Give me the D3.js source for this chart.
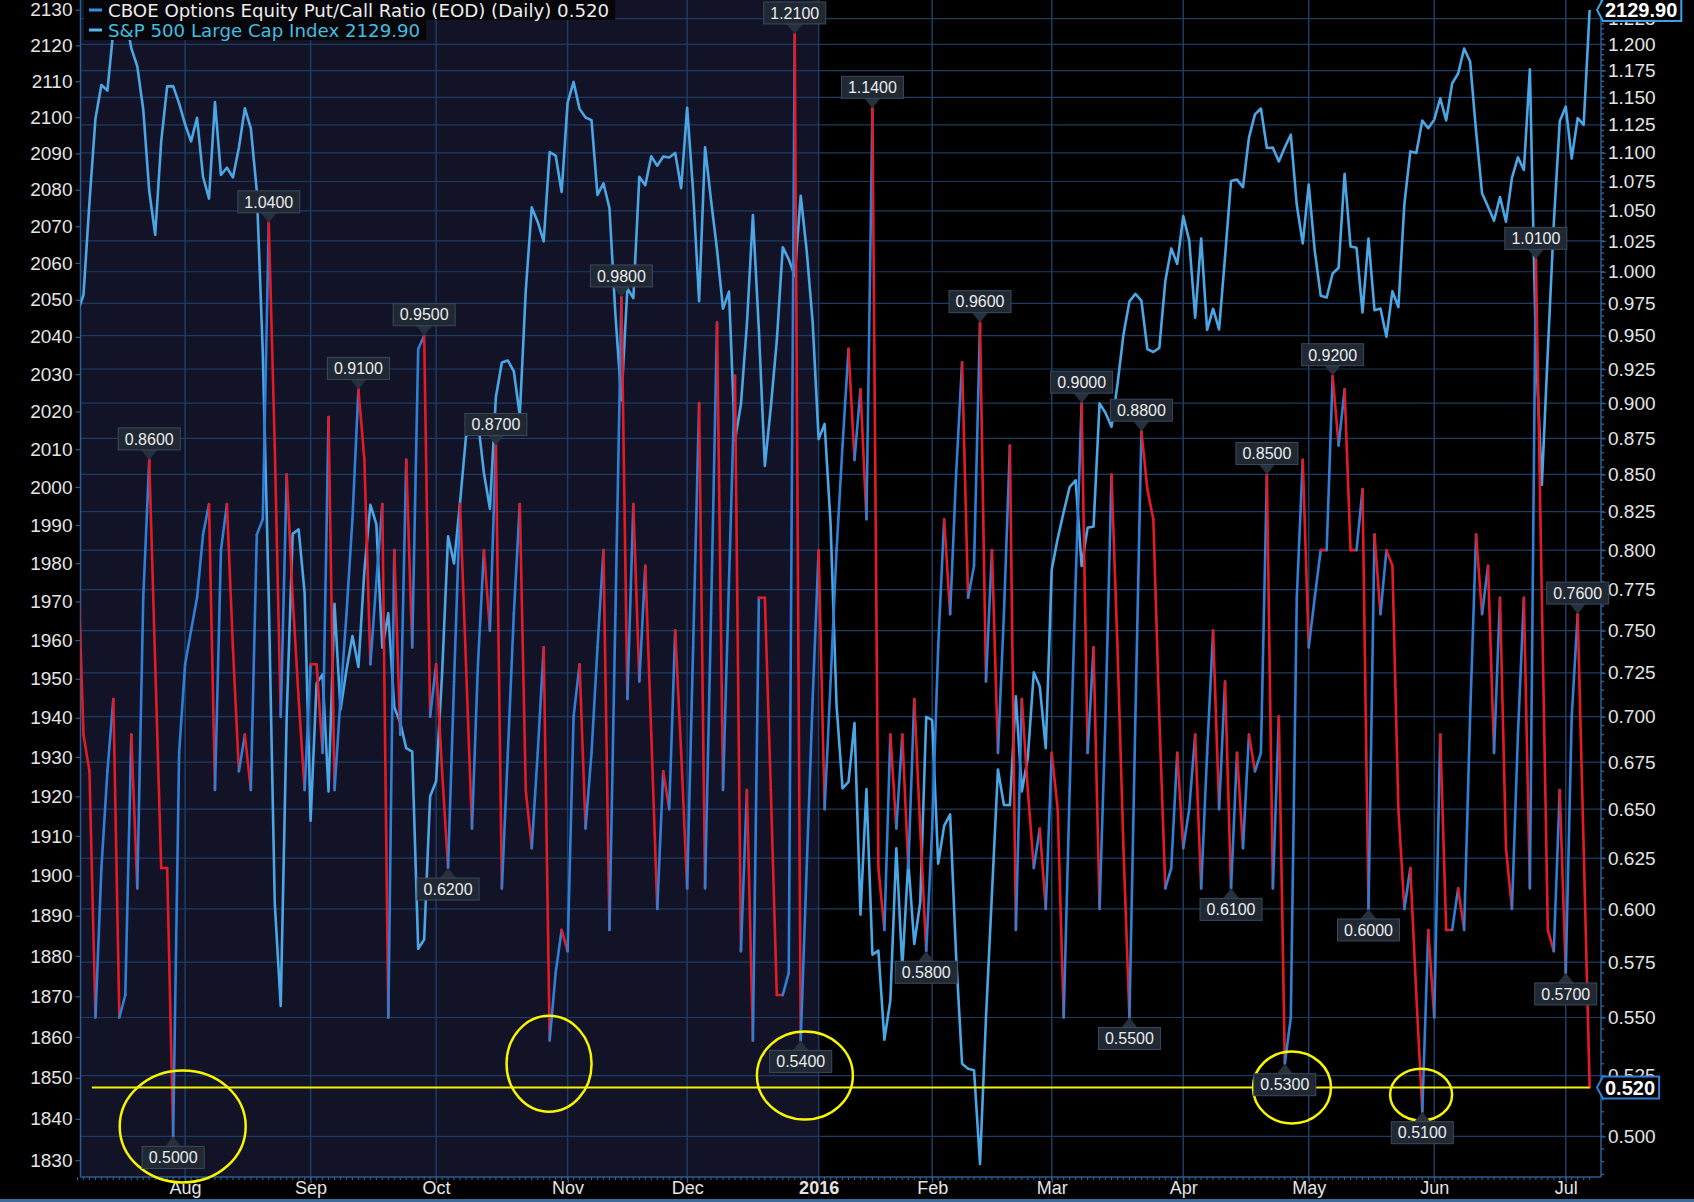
<!DOCTYPE html>
<html><head><meta charset="utf-8">
<script src="https://cdn.jsdelivr.net/npm/d3@7"></script>
<style>html,body{margin:0;padding:0;background:#000;}svg{display:block;}</style>
</head><body><svg id="chart" width="1694" height="1202"></svg>
<script>
// ---------- DATA ----------
const startDate = "2015-07-08", endDate = "2016-07-08";
const holidays = ["2015-09-07","2015-11-26","2015-12-25","2016-01-01","2016-01-18","2016-02-15","2016-03-25","2016-05-30","2016-07-04"];
const monthLabels = ["Aug","Sep","Oct","Nov","Dec","2016","Feb","Mar","Apr","May","Jun","Jul"];
const seriesNames = ["CBOE Options Equity Put/Call Ratio (EOD) (Daily) 0.520","S&P 500 Large Cap Index 2129.90"];
// S&P 500 daily close (one value per trading day)
const spx = [
2046.68,2051.31,2076.62,2099.60,2108.95,2107.40,2124.29,2126.64,2128.28,2119.21,2114.15,2102.15,2079.65,2067.64,2093.25,2108.57,2108.63,2103.84,
2098.04,2093.32,2099.84,2083.56,2077.57,2104.18,2084.07,2086.05,2083.39,2091.54,2102.44,2096.92,2079.61,2035.73,1970.89,1893.21,1867.61,1940.51,1987.66,1988.87,1972.18,
1913.85,1948.86,1951.13,1921.22,1969.41,1942.04,1952.29,1961.05,1953.03,1978.09,1995.31,1990.20,1958.03,1966.97,1942.74,1938.76,1932.24,1931.34,1881.77,1884.09,1920.03,
1923.82,1951.36,1987.05,1979.92,1995.83,2013.43,2014.89,2017.46,2003.69,1994.24,2023.86,2033.11,2033.66,2030.77,2018.94,2052.51,2075.15,2071.18,2065.89,2090.35,2089.41,2079.36,
2104.05,2109.79,2102.31,2099.93,2099.20,2078.58,2081.72,2075.00,2045.97,2023.04,2053.19,2050.44,2083.58,2081.24,2089.17,2086.59,2089.14,2088.87,2090.11,2080.41,
2102.63,2079.51,2049.62,2091.69,2077.07,2063.59,2047.62,2052.23,2012.37,2021.94,2043.41,2073.07,2041.89,2005.55,2021.15,2038.97,2064.29,2060.99,2056.50,2078.36,2063.36,2043.94,
2012.66,2016.71,1990.26,1943.09,1922.03,1923.67,1938.68,1890.28,1921.84,1880.33,1881.33,1859.33,1868.99,1906.90,1877.08,1903.63,1882.95,1893.36,1940.24,
1939.38,1903.03,1912.53,1915.45,1880.05,1853.44,1852.21,1851.86,1829.08,1864.78,1895.58,1926.82,1917.83,1917.78,1945.50,1921.27,1929.80,1951.70,1948.05,1932.23,
1978.35,1986.45,1993.40,1999.99,2001.76,1979.26,1989.26,1989.57,2022.19,2019.64,2015.93,2027.22,2040.59,2049.58,2051.60,2049.80,2036.71,2035.94,2037.05,2055.01,2063.95,2059.74,
2072.78,2066.13,2045.17,2066.66,2041.91,2047.60,2041.99,2061.72,2082.42,2082.78,2080.73,2094.34,2100.80,2102.40,2091.48,2091.58,2087.79,2091.70,2095.15,2075.81,2065.30,
2081.43,2063.37,2051.12,2050.63,2057.14,2058.69,2084.39,2064.46,2064.11,2046.61,2066.66,2047.21,2047.63,2040.04,2052.32,2048.04,2076.06,2090.54,2090.10,2099.06,2096.95,
2099.33,2105.26,2099.13,2109.41,2112.13,2119.12,2115.48,2096.07,2079.06,2075.32,2071.50,2077.99,2071.22,2083.25,2088.90,2085.45,2113.32,2037.41,2000.54,2036.09,2070.77,2098.86,
2102.95,2088.55,2099.73,2097.90,2129.90];
// CBOE equity put/call ratio (one value per trading day)
const pcr = [
0.80,
0.69,0.67,0.55,0.62,0.67,0.71,0.55,0.56,0.69,0.61,
0.77,0.86,0.73,0.62,0.62,0.50,0.68,0.73,0.75,0.77,
0.81,0.83,0.66,0.80,0.83,0.74,0.67,0.69,0.66,0.81,
0.82,1.04,0.87,0.70,0.85,0.77,0.71,0.66,0.73,0.73,
0.68,0.89,0.66,0.71,0.76,0.82,0.91,0.86,0.73,0.78,
0.83,0.55,0.80,0.69,0.86,0.74,0.94,0.95,0.70,0.73,
0.67,0.62,0.72,0.83,0.73,0.64,0.73,0.80,0.75,0.87,
0.61,0.68,0.76,0.83,0.66,0.63,0.68,0.74,0.54,0.57,
0.59,0.58,0.70,0.73,0.64,0.68,0.74,0.80,0.59,0.76,
0.98,0.71,0.83,0.72,0.79,0.69,0.60,0.67,0.65,0.75,
0.68,0.61,0.74,0.90,0.61,0.76,0.96,0.66,0.78,0.92,
0.58,0.66,0.54,0.77,0.77,0.66,0.56,0.56,0.57,1.21,
0.54,0.62,0.71,0.80,0.65,0.72,0.80,0.87,0.94,0.86,
0.91,0.82,1.14,0.62,0.59,0.69,0.64,0.69,0.62,0.71,
0.64,0.58,0.64,0.74,0.82,0.76,0.85,0.93,0.77,0.79,
0.96,0.72,0.80,0.68,0.76,0.87,0.59,0.71,0.66,0.62,
0.64,0.60,0.68,0.65,0.55,0.66,0.78,0.90,0.68,0.74,
0.60,0.70,0.85,0.74,0.63,0.55,0.70,0.88,0.84,0.82,
0.70,0.61,0.62,0.68,0.63,0.65,0.69,0.61,0.68,0.75,
0.65,0.72,0.61,0.68,0.63,0.69,0.67,0.68,0.85,0.61,
0.70,0.53,0.55,0.77,0.86,0.74,0.77,0.80,0.80,0.92,
0.87,0.91,0.80,0.80,0.84,0.60,0.81,0.76,0.80,0.79,
0.65,0.60,0.62,0.56,0.51,0.59,0.55,0.69,0.59,0.59,
0.61,0.59,0.70,0.81,0.76,0.79,0.68,0.77,0.63,0.60,
0.69,0.77,0.61,1.01,0.77,0.59,0.58,0.66,0.57,0.70,
0.76,0.63,0.52];
const leftTicks = d3.range(1830, 2131, 10);
const rightTicks = d3.range(20, 50).map(k => +(k * 0.025).toFixed(3));
// highlighted extremes: [trading-day index, side]
const callouts = [[16,"b"],[12,"a"],[32,"a"],[47,"a"],[58,"a"],[62,"b"],[70,"a"],[91,"a"],[120,"a"],[121,"b"],[133,"a"],[142,"b"],[151,"a"],[168,"a"],[176,"b"],[178,"a"],[193,"b"],[199,"a"],[202,"b"],[210,"a"],[216,"b"],[225,"b"],[244,"a"],[251,"a"],[249,"b"]];
const refLevel = 0.52;
// yellow rings: [trading-day index, ratio level]
const rings = [[17.6,0.504],[78.9,0.530],[121.7,0.525],[203.2,0.520],[224.8,0.517]];

// ---------- LAYOUT ----------
const W = 1694, H = 1202;
const P = {left: 80.5, right: 1601, top: 0, bottom: 1177};
const svg = d3.select("#chart");
const FONT = "'Liberation Sans', Arial, sans-serif";
const GRID = "#1d3c62", AXIS = "#2a5d92";

const fmt = d3.utcFormat("%Y-%m-%d");
const hol = new Set(holidays);
const dates = d3.utcDays(d3.utcParse("%Y-%m-%d")(startDate), d3.utcDay.offset(d3.utcParse("%Y-%m-%d")(endDate), 1))
  .filter(d => d.getUTCDay() !== 0 && d.getUTCDay() !== 6 && !hol.has(fmt(d)));
const monthIdx = [];
dates.forEach((d, k) => { if (k > 0 && d.getUTCMonth() !== dates[k-1].getUTCMonth()) monthIdx.push(k); });
const yearIdx = monthIdx[monthLabels.indexOf("2016")];

const x = d3.scaleLinear().domain([0.5, 254.9]).range([P.left, P.right]);
const y1 = d3.scaleLog().domain([1830, 2130]).range([1160.2, 9.7]);
const y2 = d3.scaleLog().domain([0.5, 1.2]).range([1136.4, 44.3]);

svg.append("rect").attr("width", W).attr("height", H).attr("fill", "#000");
svg.append("rect").attr("x", P.left).attr("y", P.top).attr("width", x(yearIdx) - P.left)
  .attr("height", P.bottom - P.top).attr("fill", "#131327");
svg.append("rect").attr("x", 0).attr("y", 1199).attr("width", W).attr("height", 3).attr("fill", "#3c6c9c");

// grid
const grid = svg.append("g");
grid.selectAll(".h").data(rightTicks).join("line")
  .attr("x1", P.left).attr("x2", P.right).attr("y1", d => y2(d)).attr("y2", d => y2(d))
  .attr("stroke", GRID).attr("stroke-width", 1.2);
grid.selectAll(".v").data(monthIdx).join("line")
  .attr("x1", d => x(d)).attr("x2", d => x(d)).attr("y1", P.top).attr("y2", P.bottom)
  .attr("stroke", GRID).attr("stroke-width", 1.5);

// axes
const axisStyle = g => {
  g.select(".domain").attr("stroke", AXIS).attr("stroke-width", 1.5);
  g.selectAll(".tick line").attr("stroke", AXIS).attr("stroke-width", 1.2);
  g.selectAll("text").attr("fill", "#e4e4e4").attr("font-family", FONT).attr("font-size", 19);
};
svg.append("g").attr("transform", `translate(${P.left},0)`)
  .call(d3.axisLeft(y1).tickValues(leftTicks).tickFormat(d3.format("d")).tickSize(5).tickSizeOuter(0).tickPadding(3))
  .call(axisStyle).call(g => g.select(".domain").attr("d", `M0,${P.top}V${P.bottom}`));
// right axis minor ticks
const minor = d3.range(97, 249).map(k => k * 0.005);
svg.append("g").selectAll("line").data(minor).join("line")
  .attr("x1", P.right).attr("x2", P.right + 3).attr("y1", d => y2(d)).attr("y2", d => y2(d))
  .attr("stroke", AXIS).attr("stroke-width", 1.5);
svg.append("g").attr("transform", `translate(${P.right},0)`)
  .call(d3.axisRight(y2).tickValues(rightTicks).tickFormat(d3.format(".3f")).tickSize(5).tickSizeOuter(0).tickPadding(2))
  .call(axisStyle).call(g => g.select(".domain").attr("d", `M0,${P.top}V${P.bottom}`));
// bottom axis: daily minor ticks + month ticks
svg.append("g").selectAll("line").data(d3.range(0, dates.length)).join("line")
  .attr("x1", d => x(d)).attr("x2", d => x(d)).attr("y1", P.bottom).attr("y2", P.bottom + 3)
  .attr("stroke", AXIS).attr("stroke-width", 1.2);
const bx = svg.append("g").attr("transform", `translate(0,${P.bottom})`)
  .call(d3.axisBottom(x).tickValues(monthIdx).tickFormat((d, i) => monthLabels[i]).tickSize(6).tickSizeOuter(0))
  .call(axisStyle);
bx.select(".domain").attr("d", `M${P.left},0H${P.right}`);
bx.selectAll("text").attr("y", 4).attr("font-size", 18)
  .attr("font-weight", (d, i) => monthLabels[i] === "2016" ? "bold" : "normal");

// clip
svg.append("clipPath").attr("id", "clip").append("rect")
  .attr("x", P.left).attr("y", P.top).attr("width", P.right - P.left).attr("height", P.bottom - P.top);
const plot = svg.append("g").attr("clip-path", "url(#clip)");

// S&P line
plot.append("path").datum(spx)
  .attr("d", d3.line().x((d, k) => x(k)).y(d => y1(d)))
  .attr("fill", "none").attr("stroke", "#4aa6e4").attr("stroke-width", 2.6).attr("stroke-linejoin", "round");

// Put/Call line, coloured by direction
const seg = d3.line().x(d => x(d[0])).y(d => y2(d[1]));
const pairs = d3.range(0, pcr.length - 1).map(k => [[k, pcr[k]], [k + 1, pcr[k + 1]]]);
plot.append("g").selectAll("path").data(pairs).join("path")
  .attr("d", seg).attr("fill", "none")
  .attr("stroke", d => d[1][1] > d[0][1] ? "#2f7fd6" : "#e41b24")
  .attr("stroke-width", 2.6).attr("stroke-linecap", "round");

// reference line
svg.append("line").attr("x1", x(2.4)).attr("x2", x(pcr.length - 1)).attr("y1", y2(refLevel)).attr("y2", y2(refLevel))
  .attr("stroke", "#f4f400").attr("stroke-width", 2);

// rings
const ringR = [[63,56],[42.5,48],[48,44],[39,36],[31,26]];
svg.append("g").selectAll("ellipse").data(rings).join("ellipse")
  .attr("cx", d => x(d[0])).attr("cy", d => y2(d[1]))
  .attr("rx", (d, i) => ringR[i][0]).attr("ry", (d, i) => ringR[i][1])
  .attr("fill", "none").attr("stroke", "#f6f600").attr("stroke-width", 2.5);

// callouts
const cg = svg.append("g").selectAll("g").data(callouts).join("g")
  .attr("transform", d => `translate(${x(d[0])},${y2(pcr[d[0]])})`);
cg.append("path").attr("d", d => d[1] === "a" ? "M0,0L-8,-10L8,-10Z" : "M0,0L-8,10L8,10Z").attr("fill", "#27313d");
cg.append("rect").attr("x", -31).attr("y", d => d[1] === "a" ? -32 : 10).attr("width", 62).attr("height", 22)
  .attr("fill", "#1f2833").attr("stroke", "#3a4a5c").attr("stroke-width", 1);
cg.append("text").attr("x", 0).attr("y", d => d[1] === "a" ? -21 : 21).attr("dy", "0.36em")
  .attr("text-anchor", "middle").attr("font-family", FONT).attr("font-size", 16).attr("fill", "#ececec")
  .text(d => pcr[d[0]].toFixed(4));

// legend
const lg = svg.append("g");
const legendColors = [["#3a8de0", "#ececec"], ["#58b6ea", "#3fbfe0"]];
seriesNames.forEach((name, i) => {
  const yC = 10 + i * 20;
  const t = lg.append("text").attr("x", 108).attr("y", yC).attr("dy", "0.36em")
    .attr("font-family", "'DejaVu Sans', sans-serif").attr("font-size", 18.2).attr("fill", legendColors[i][1]).text(name);
  const w = t.node().getComputedTextLength();
  lg.insert("rect", "text").attr("x", 84).attr("y", yC - 10).attr("width", w + 30).attr("height", 20).attr("fill", "#05050a");
  lg.append("line").attr("x1", 89).attr("x2", 102).attr("y1", yC).attr("y2", yC)
    .attr("stroke", legendColors[i][0]).attr("stroke-width", 3);
});

// last-value boxes on the right axis
function valueBox(cy, label, color) {
  const g = svg.append("g").attr("transform", `translate(${P.right - 4},${cy})`);
  const t = g.append("text").attr("x", 8).attr("y", 0).attr("dy", "0.36em").attr("font-family", FONT)
    .attr("font-size", 20).attr("font-weight", "bold").attr("fill", "#fff").text(label);
  const w = t.node().getComputedTextLength() + 12;
  g.insert("path", "text").attr("d", `M0,0L6,-11H${w}V11H6Z`).attr("fill", "#000").attr("stroke", color).attr("stroke-width", 2);
}
valueBox(y1(spx[spx.length - 1]), d3.format(".2f")(spx[spx.length - 1]), "#3aa2e4");
valueBox(y2(pcr[pcr.length - 1]), d3.format(".3f")(pcr[pcr.length - 1]), "#2f7fd6");
</script></body></html>
